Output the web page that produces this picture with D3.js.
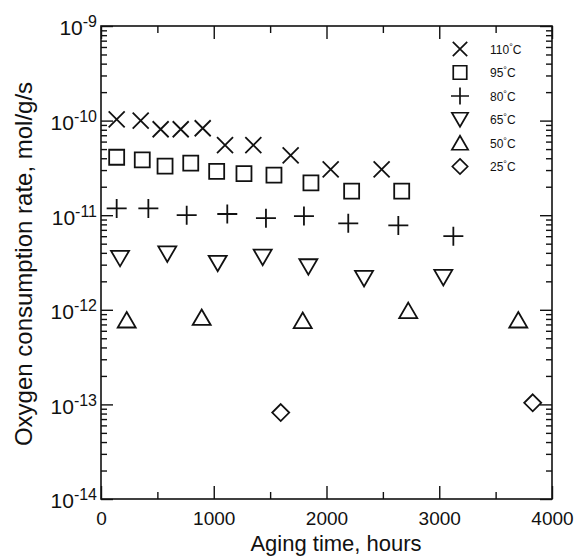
<!DOCTYPE html>
<html>
<head>
<meta charset="utf-8">
<script src="https://cdn.jsdelivr.net/npm/d3@7"></script>
<style>
  body { margin: 0; background: #fff; }
  svg { font-family: "Liberation Sans", Arial, sans-serif; }
</style>
</head>
<body>
<div id="Canvas"></div>
<script>
// series (hours, rate in mol/g/s)
const temps = ["110°C", "95°C", "80°C", "65°C", "50°C", "25°C"]
const shapes = ["x", "square", "plus", "tdown", "tup", "diamond"]

const hours110 = [139, 352, 529, 707, 902, 1100, 1351, 1682, 2037, 2489]
const rate110 = [1.03e-10, 1.0e-10, 8.1e-11, 8.1e-11, 8.3e-11, 5.5e-11, 5.5e-11, 4.3e-11, 3.05e-11, 3.05e-11]
const hours95 = [139, 366, 568, 796, 1026, 1268, 1534, 1862, 2223, 2667]
const rate95 = [4.1e-11, 3.85e-11, 3.3e-11, 3.55e-11, 2.9e-11, 2.75e-11, 2.65e-11, 2.2e-11, 1.8e-11, 1.8e-11]
const hours80 = [139, 420, 760, 1120, 1463, 1800, 2193, 2637, 3125]
const rate80 = [1.18e-11, 1.18e-11, 1.0e-11, 1.03e-11, 9.3e-12, 9.8e-12, 8.2e-12, 7.8e-12, 6.0e-12]
const hours65 = [169, 588, 1035, 1434, 1839, 2333, 3036]
const rate65 = [3.5e-12, 3.9e-12, 3.1e-12, 3.6e-12, 2.85e-12, 2.15e-12, 2.2e-12]
const hours50 = [228, 893, 1789, 2725, 3701]
const rate50 = [7.8e-13, 8.3e-13, 7.7e-13, 9.8e-13, 7.8e-13]
const hours25 = [1594, 3829]
const rate25 = [8.2e-14, 1.04e-13]

const allHours = [hours110, hours95, hours80, hours65, hours50, hours25]
const allRates = [rate110, rate95, rate80, rate65, rate50, rate25]

const xTicks = [0, 1000, 2000, 3000, 4000]
const xMinor = [500, 1500, 2500, 3500]
const yDecades = [1e-14, 1e-13, 1e-12, 1e-11, 1e-10, 1e-9]

let svg = d3.select("#Canvas")
    .append("svg")
    .attr("width", 575)
    .attr("height", 556)

let xScale = d3.scaleLinear()
    .domain([0, 4000])
    .range([101, 552])
let yScale = d3.scaleLog()
    .domain([1e-14, 1e-9])
    .range([499, 26])

// minor ticks on the log axis: 2..9 in each decade
let yMinor = []
for (let k = -14; k < -9; k++) {
    for (let m = 2; m <= 9; m++) {
        yMinor.push(m * Math.pow(10, k))
    }
}

function marker(type) {
    if (type == "x") return "M-8,-8L8,8M-8,8L8,-8"
    if (type == "square") return "M-7.5,-7.5H7.5V7.5H-7.5Z"
    if (type == "plus") return "M-10,0H10M0,-9.5V9.5"
    if (type == "tdown") return "M-9,-7.5H9L0,8Z"
    if (type == "tup") return "M0,-8L9,7.5H-9Z"
    return "M0,-8.5L8.5,0L0,8.5L-8.5,0Z"
}

// axes, ticks inward on all four sides
function styleAxis(g) {
    g.select(".domain").remove()
    g.attr("font-family", null).attr("font-size", null)
    g.selectAll("line").attr("stroke", "#111").attr("stroke-width", 1.4)
}
svg.append("g")
    .attr("transform", "translate(0,499)")
    .call(d3.axisBottom(xScale).tickValues(xTicks).tickSize(-13).tickSizeOuter(0).tickPadding(13).tickFormat(d3.format("d")))
    .call(styleAxis)
    .call(g => g.selectAll("text").attr("font-size", 19).attr("fill", "#111"))
svg.append("g")
    .attr("transform", "translate(0,499)")
    .call(d3.axisBottom(xScale).tickValues(xMinor).tickSize(-7).tickFormat(""))
    .call(styleAxis)
svg.append("g")
    .attr("transform", "translate(0,26)")
    .call(d3.axisTop(xScale).tickValues(xTicks).tickSize(-13).tickFormat(""))
    .call(styleAxis)
svg.append("g")
    .attr("transform", "translate(0,26)")
    .call(d3.axisTop(xScale).tickValues(xMinor).tickSize(-7).tickFormat(""))
    .call(styleAxis)

let yAxis = svg.append("g")
    .attr("transform", "translate(101,0)")
    .call(d3.axisLeft(yScale).tickValues(yDecades).tickSize(-12).tickPadding(4))
    .call(styleAxis)
yAxis.selectAll(".tick text")
    .attr("font-size", 21)
    .attr("fill", "#111")
    .attr("dy", "0.42em")
    .each(function (d) {
        let t = d3.select(this)
        t.text(null)
        t.append("tspan").text("10")
        t.append("tspan")
            .attr("dy", "-0.5em")
            .attr("font-size", 16)
            .text(Math.round(Math.log10(d)))
    })
svg.append("g")
    .attr("transform", "translate(101,0)")
    .call(d3.axisLeft(yScale).tickValues(yMinor).tickSize(-6).tickFormat(""))
    .call(styleAxis)
svg.append("g")
    .attr("transform", "translate(552,0)")
    .call(d3.axisRight(yScale).tickValues(yDecades).tickSize(-12).tickFormat(""))
    .call(styleAxis)
svg.append("g")
    .attr("transform", "translate(552,0)")
    .call(d3.axisRight(yScale).tickValues(yMinor).tickSize(-6).tickFormat(""))
    .call(styleAxis)

// frame
svg.append("rect")
    .attr("x", 101)
    .attr("y", 26)
    .attr("width", 451)
    .attr("height", 473)
    .attr("fill", "none")
    .attr("stroke", "#111")
    .attr("stroke-width", 1.6)

// axis titles
svg.append("text")
    .attr("x", 336)
    .attr("y", 551)
    .attr("text-anchor", "middle")
    .attr("font-size", 22)
    .attr("fill", "#111")
    .text("Aging time, hours")
svg.append("text")
    .attr("transform", "translate(32,264) rotate(-90)")
    .attr("text-anchor", "middle")
    .attr("font-size", 24)
    .attr("fill", "#111")
    .text("Oxygen consumption rate, mol/g/s")

// points
allHours.forEach((hs, i) => {
    svg.append("g")
        .selectAll("path")
        .data(hs.map((h, j) => ({ h: h, r: allRates[i][j] })))
        .enter()
        .append("path")
        .attr("transform", d => "translate(" + xScale(d.h) + "," + yScale(d.r) + ")")
        .attr("d", marker(shapes[i]))
        .attr("fill", "none")
        .attr("stroke", "#111")
        .attr("stroke-width", 1.8)
})

// legend
let legend = svg.append("g")
legend.selectAll("path")
    .data(temps)
    .enter()
    .append("path")
    .attr("transform", (d, i) => "translate(460," + (49 + i * 23.5) + ") scale(0.9)")
    .attr("d", (d, i) => marker(shapes[i]))
    .attr("fill", "none")
    .attr("stroke", "#111")
    .attr("stroke-width", 1.9)
legend.selectAll("text")
    .data(temps)
    .enter()
    .append("text")
    .attr("x", 490)
    .attr("y", (d, i) => 49 + i * 23.5 + 4.5)
    .attr("font-size", 12)
    .attr("fill", "#111")
    .each(function (d) {
        let t = d3.select(this)
        t.append("tspan").text(d.replace("°C", ""))
        t.append("tspan").attr("dy", -4).attr("font-size", 9).text("°")
        t.append("tspan").attr("dy", 4).text("C")
    })
</script>
</body>
</html>
